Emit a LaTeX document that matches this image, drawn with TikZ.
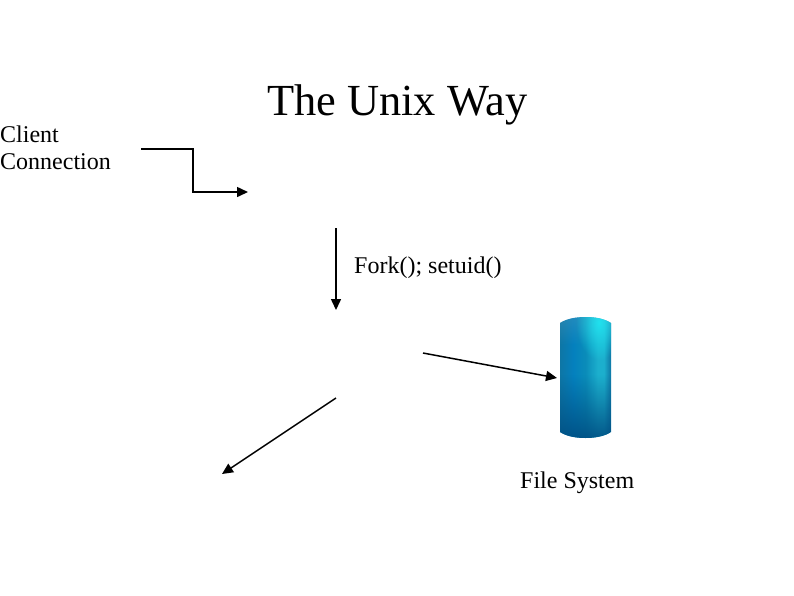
\documentclass[tikz,border=0pt]{standalone}
\usepackage{fontspec}
\setmainfont{Liberation Serif}
\usetikzlibrary{arrows.meta,fadings}
\definecolor{cylEdge}{RGB}{14,118,165}
\definecolor{cylBlue}{RGB}{4,128,190}
\definecolor{cylMid}{RGB}{10,140,185}
\definecolor{cylLight}{RGB}{28,175,205}
\definecolor{cylDark}{RGB}{0,78,130}
\definecolor{cylTop}{RGB}{30,235,245}
\pgfdeclarehorizontalshading{cylbase}{100bp}{color(0bp)=(cylEdge);color(25bp)=(cylEdge);color(38bp)=(cylBlue);color(50bp)=(cylMid);color(62bp)=(cylLight);color(68bp)=(cylLight);color(75bp)=(cylEdge);color(100bp)=(cylEdge)}
\tikzfading[name=fadedown,top color=transparent!0,bottom color=transparent!100]
\tikzfading[name=fadeup,top color=transparent!100,bottom color=transparent!0]
\tikzfading[name=fadespot,inner color=transparent!0,outer color=transparent!100]
\tikzset{
  conn/.style={draw=black,line width=1.5pt,-{Triangle[length=11pt,width=10pt]}},
  lbl/.style={inner sep=0pt,anchor=base west,font=\fontsize{24}{27}\selectfont},
  ttl/.style={inner sep=0pt,anchor=base west,font=\fontsize{44.4}{50}\selectfont}
}
\begin{document}
\begin{tikzpicture}[x=1pt,y=-1pt]
\useasboundingbox (0,0) rectangle (794,595);
\fill[white] (0,0) rectangle (794,595);
\node[ttl] (title) at (267,115) {The Unix Way};
\node[lbl] (client) at (0,142) {Client};
\node[lbl] (conn) at (0,169) {Connection};
\node[lbl] (fork) at (354,273) {Fork(); setuid()};
\node[lbl] (fs) at (520,488) {File System};
\coordinate (a1) at (141,149);
\coordinate (a2) at (193,149);
\coordinate (a3) at (193,192);
\coordinate (a4) at (248,192);
\coordinate (b1) at (336,228);
\coordinate (b2) at (336,310);
\coordinate (c1) at (423,353);
\coordinate (c2) at (557,378);
\coordinate (d1) at (336,398);
\coordinate (d2) at (222,474);
\draw[conn] (a1) -- (a2) -- (a3) -- (a4);
\draw[conn] (b1) -- (b2);
\draw[conn] (c1) -- (c2);
\draw[conn] (d1) -- (d2);
% cylinder
\begin{scope}
\clip (560,323) .. controls (566,319) and (575,317) .. (585.5,317) .. controls (596,317) and (605,319) .. (611,323) -- (611,432) .. controls (605,436) and (596,438) .. (585.5,438) .. controls (575,438) and (566,436) .. (560,432) -- cycle;
\shade[shading=cylbase] (560,317) rectangle (611,438);
\fill[cylDark,path fading=fadeup,opacity=.9] (560,375) rectangle (611,438);
\fill[cylEdge!70!white,path fading=fadedown,opacity=.35] (560,317) rectangle (611,345);
\fill[cylTop,path fading=fadespot,opacity=.85] (576,285) rectangle (622,360);
\end{scope}
\end{tikzpicture}
\end{document}
